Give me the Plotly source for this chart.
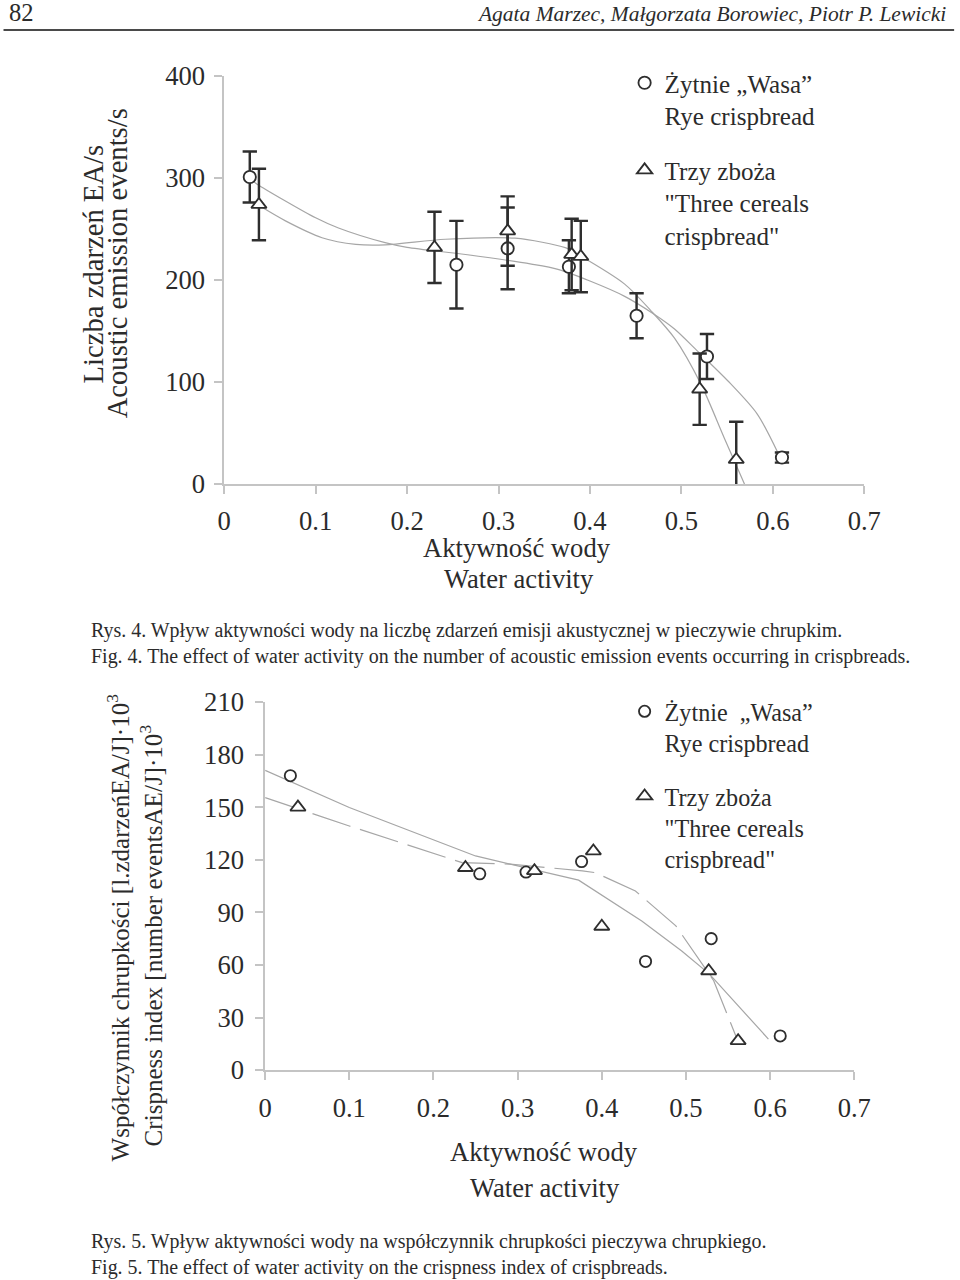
import plotly.graph_objects as go

# The page photograph is slightly scaled/offset by the viewer; layout below is
# expressed in target-picture pixels and converted to page pixels.
S = 0.977
OX, OY = 7.5, 14.0
WF, HF = 983, 1310

FONT = "Liberation Serif"
TXT = "#2b2b2b"
MK = "#2e2e2e"
AXC = "#c4c4c4"
FITC = "#a6a6a6"

# ---------- Fig. 4: acoustic emission events vs water activity ----------
aw_rye_ae = [0.028, 0.254, 0.31, 0.377, 0.451, 0.528, 0.61]
ae_rye = [301, 215, 231, 213, 165, 125, 26]
ae_rye_err = [25, 43, 40, 26, 22, 22, 5]

aw_tri_ae = [0.038, 0.23, 0.31, 0.38, 0.39, 0.52, 0.56]
ae_tri = [274, 232, 248, 225, 223, 93, 24]
ae_tri_err = [35, 35, 34, 35, 35, 35, 37]

fit1_rye_x = [0.03, 0.036, 0.1, 0.125, 0.176, 0.2, 0.264, 0.336, 0.365, 0.40,
              0.438, 0.471, 0.4925, 0.518, 0.551, 0.583, 0.607]
fit1_rye_y = [298, 294, 261, 251, 236.6, 232, 225, 215.6, 210.5, 199,
              184, 166, 152, 130, 101, 68.6, 28]
fit1_tri_x = [0.04, 0.067, 0.107, 0.144, 0.176, 0.242, 0.318, 0.373, 0.387,
              0.438, 0.467, 0.4925, 0.5215, 0.547, 0.569]
fit1_tri_y = [272, 258, 241.5, 235, 234.5, 240, 241, 231.7, 225,
              196, 169.6, 143, 97.7, 45, 0]

# ---------- Fig. 5: crispness index vs water activity ----------
aw_rye_ci = [0.03, 0.255, 0.31, 0.376, 0.452, 0.53, 0.612]
ci_rye = [168, 112, 113, 119, 62, 75, 19.5]
aw_tri_ci = [0.039, 0.238, 0.32, 0.39, 0.40, 0.527, 0.562]
ci_tri = [150, 115.5, 113.7, 125, 82, 56.6, 16.7]

fit2_rye_x = [0.0, 0.1, 0.25, 0.3725, 0.4475, 0.495, 0.528, 0.598]
fit2_rye_y = [171, 149.8, 122.2, 108.4, 85.1, 68, 54.8, 17.7]
fit2_tri_x = [0.0, 0.1, 0.234, 0.291, 0.377, 0.392, 0.44, 0.488, 0.533, 0.56]
fit2_tri_y = [155.5, 139.3, 118.4, 117.5, 113.7, 112.7, 102.2, 82.3, 51, 18.6]

x_ticks = [0, 0.1, 0.2, 0.3, 0.4, 0.5, 0.6, 0.7]
x_ticktext = ["0", "0.1", "0.2", "0.3", "0.4", "0.5", "0.6", "0.7"]
y1_ticks = [0, 100, 200, 300, 400]
y2_ticks = [0, 30, 60, 90, 120, 150, 180, 210]

name_rye = "Żytnie „Wasa”<br>Rye crispbread"
name_rye2 = "Żytnie  „Wasa”<br>Rye crispbread"
name_tri = "Trzy zboża<br>\"Three cereals<br>crispbread\""


def px(x):
    return ((x - OX) / S) / WF


def py(y):
    return 1 - ((y - OY) / S) / HF


def k(v):
    return v / S


def ki(v):
    return int(round(v / S))


fig = go.Figure()

# fit lines chart 1
fig.add_trace(go.Scatter(x=fit1_rye_x, y=fit1_rye_y, mode="lines", showlegend=False,
                         line=dict(color=FITC, width=1.2, shape="spline", smoothing=0.8),
                         xaxis="x", yaxis="y", hoverinfo="skip"))
fig.add_trace(go.Scatter(x=fit1_tri_x, y=fit1_tri_y, mode="lines", showlegend=False,
                         line=dict(color=FITC, width=1.2, shape="spline", smoothing=0.8),
                         xaxis="x", yaxis="y", hoverinfo="skip"))
# data chart 1
err_style = dict(type="data", thickness=k(2.4), width=k(7), color=MK)
fig.add_trace(go.Scatter(x=aw_rye_ae, y=ae_rye, mode="markers", name=name_rye,
                         error_y=dict(array=ae_rye_err, **err_style),
                         marker=dict(symbol="circle", size=k(12), color="white",
                                     line=dict(color=MK, width=k(1.8))),
                         xaxis="x", yaxis="y", legend="legend", legendgroup="a"))
fig.add_trace(go.Scatter(x=aw_tri_ae, y=ae_tri, mode="markers", name=name_tri,
                         error_y=dict(array=ae_tri_err, **err_style),
                         marker=dict(symbol="triangle-up", size=k(13), color="white",
                                     line=dict(color=MK, width=k(1.8))),
                         xaxis="x", yaxis="y", legend="legend", legendgroup="b"))

# fit lines chart 2
fig.add_trace(go.Scatter(x=fit2_rye_x, y=fit2_rye_y, mode="lines", showlegend=False,
                         line=dict(color=FITC, width=1.2),
                         xaxis="x2", yaxis="y2", hoverinfo="skip"))
fig.add_trace(go.Scatter(x=fit2_tri_x, y=fit2_tri_y, mode="lines", showlegend=False,
                         line=dict(color=FITC, width=1.2, dash="40px,10px"),
                         xaxis="x2", yaxis="y2", hoverinfo="skip"))
# data chart 2
fig.add_trace(go.Scatter(x=aw_rye_ci, y=ci_rye, mode="markers", name=name_rye2,
                         marker=dict(symbol="circle", size=k(11), color="white",
                                     line=dict(color=MK, width=k(1.8))),
                         xaxis="x2", yaxis="y2", legend="legend2", legendgroup="c"))
fig.add_trace(go.Scatter(x=aw_tri_ci, y=ci_tri, mode="markers", name=name_tri,
                         marker=dict(symbol="triangle-up", size=k(13), color="white",
                                     line=dict(color=MK, width=k(1.8))),
                         xaxis="x2", yaxis="y2", legend="legend2", legendgroup="d"))

tickfont = dict(family=FONT, size=k(26), color=TXT)
axis_common = dict(showgrid=False, zeroline=False, showline=True, linecolor=AXC,
                   linewidth=k(1.5), ticks="outside", ticklen=ki(8), tickcolor=AXC,
                   tickwidth=k(1.5), tickfont=tickfont, fixedrange=True)

legend_common = dict(xanchor="left", yanchor="top", bgcolor="rgba(0,0,0,0)",
                     valign="top", traceorder="grouped", itemwidth=30)

fig.update_layout(
    width=WF, height=HF, margin=dict(l=0, r=0, t=0, b=0),
    paper_bgcolor="white", plot_bgcolor="white",
    font=dict(family=FONT, color=TXT),
    xaxis=dict(domain=[px(225), px(866)], range=[0, 0.7], anchor="y",
               tickvals=x_ticks, ticktext=x_ticktext, ticklabelstandoff=ki(4), **axis_common),
    yaxis=dict(domain=[py(483), py(75)], range=[0, 400], anchor="x",
               tickvals=y1_ticks, ticklabelstandoff=ki(4), **axis_common),
    xaxis2=dict(domain=[px(266), px(856)], range=[0, 0.7], anchor="y2",
                tickvals=x_ticks, ticktext=x_ticktext, ticklabelstandoff=ki(5), **axis_common),
    yaxis2=dict(domain=[py(1069), py(701)], range=[0, 210], anchor="x2",
                tickvals=y2_ticks, ticklabelstandoff=ki(6), **axis_common),
    legend=dict(x=px(626), y=py(59), tracegroupgap=ki(19),
                font=dict(family=FONT, size=k(24.5), color=TXT), **legend_common),
    legend2=dict(x=px(626), y=py(688), tracegroupgap=ki(19),
                 font=dict(family=FONT, size=k(23.6), color=TXT), **legend_common),
    showlegend=True,
)

ann = []


def text(x, y, s, size=26, angle=0, xanchor="center", italic=False):
    ann.append(dict(x=px(x), y=py(y), xref="paper", yref="paper", text=s,
                    showarrow=False, textangle=angle, xanchor=xanchor, yanchor="middle",
                    font=dict(family=FONT, size=k(size), color=TXT,
                              style="italic" if italic else "normal")))


# header
text(8, 12, "82", size=24, xanchor="left")
text(950, 13, "Agata Marzec, Małgorzata Borowiec, Piotr P. Lewicki", size=21,
     xanchor="right", italic=True)
fig.add_shape(type="line", xref="paper", yref="paper", x0=px(4), x1=px(956),
              y0=py(29), y1=py(29), line=dict(color="#4a4a4a", width=k(2)))

# chart 1 titles
text(94, 263, "Liczba zdarzeń EA/s", size=28, angle=-90)
text(118, 262, "Acoustic emission events/s", size=28, angle=-90)
text(518, 547, "Aktywność wody")
text(520, 578, "Water activity")
text(90, 629, "Rys. 4. Wpływ aktywności wody na liczbę zdarzeń emisji akustycznej w pieczywie chrupkim.",
     size=19.5, xanchor="left")
text(90, 655, "Fig. 4. The effect of water activity on the number of acoustic emission events occurring in crispbreads.",
     size=19.5, xanchor="left")

# chart 2 titles
text(119, 926, "Współczynnik chrupkości [l.zdarzeńEA/J]·10<sup>3</sup>", size=24.5, angle=-90)
text(152, 934, "Crispness index [number eventsAE/J]·10<sup>3</sup>", size=24.5, angle=-90)
text(545, 1151, "Aktywność wody")
text(546, 1187, "Water activity")
text(90, 1240, "Rys. 5. Wpływ aktywności wody na współczynnik chrupkości pieczywa chrupkiego.",
     size=19.5, xanchor="left")
text(90, 1266, "Fig. 5. The effect of water activity on the crispness index of crispbreads.",
     size=19.5, xanchor="left")

fig.update_layout(annotations=ann)
fig.write_html(
    "out.html",
    config={"displayModeBar": False},
    post_script="document.body.style.margin='0';document.body.style.padding='0';"
                "document.documentElement.style.overflow='hidden';",
)
